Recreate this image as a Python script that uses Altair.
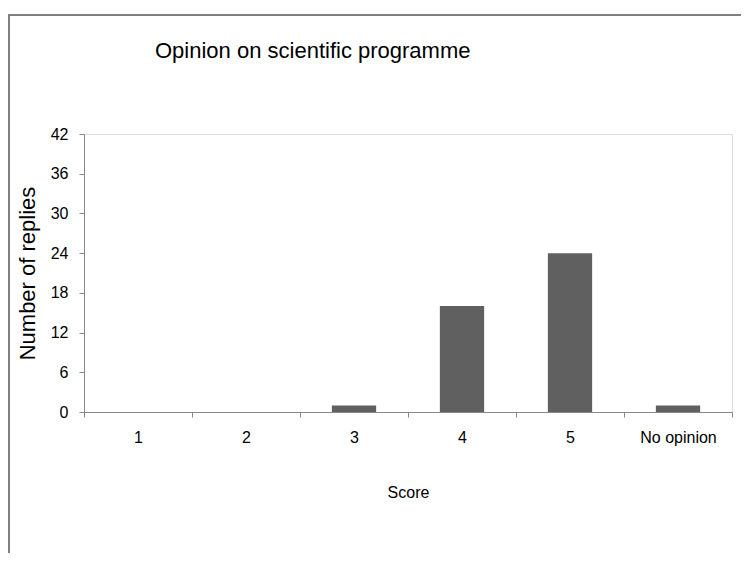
import altair as alt
import pandas as pd

categories = ["1", "2", "3", "4", "5", "No opinion"]
replies = [0, 0, 1, 16, 24, 1]
y_ticks = [0, 6, 12, 18, 24, 30, 36, 42]
chart_title = "Opinion on scientific programme"

df = pd.DataFrame({"Score": categories, "Replies": replies})

FONT = "Liberation Sans"

bars = alt.Chart(df).mark_bar(color="#606060", width={"band": 0.41}).encode(
    x=alt.X(
        "Score:N",
        sort=categories,
        scale=alt.Scale(paddingInner=0, paddingOuter=0),
        axis=alt.Axis(
            title="Score",
            labelAngle=0,
            tickBand="extent",
            labelFontSize=16,
            labelPadding=12,
            titleFontSize=16,
            titleFontWeight="normal",
            titleY=80,
            titleBaseline="middle",
        ),
    ),
    y=alt.Y(
        "Replies:Q",
        scale=alt.Scale(domain=[0, 42], nice=False),
        axis=alt.Axis(
            title="Number of replies",
            values=y_ticks,
            grid=False,
            labelFontSize=16,
            labelPadding=11,
            titleFontSize=22,
            titleFontWeight="normal",
            titleX=-57,
            titleY=139,
            titleAngle=-90,
            titleAlign="center",
            titleBaseline="middle",
        ),
    ),
)

border = alt.Chart(df).mark_rect(
    fill=None, stroke="#808080", strokeWidth=2
).encode(
    x=alt.value(-75), x2=alt.value(900), y=alt.value(-119), y2=alt.value(900)
)

title_df = pd.DataFrame({"t": [chart_title]})
title = alt.Chart(title_df).mark_text(
    align="left", baseline="middle", fontSize=22, font=FONT, color="#000000"
).encode(text="t:N", x=alt.value(71), y=alt.value(-83))

chart = (
    alt.layer(border, bars, title)
    .properties(
        width=648,
        height=278,
        autosize=alt.AutoSizeParams(type="none"),
        padding={"left": 76, "top": 126, "right": 9, "bottom": 141},
    )
    .configure_view(stroke=None)
    .configure_axis(
        domainColor="#a0a0a0",
        tickColor="#a0a0a0",
        tickSize=7,
        labelColor="#000000",
        titleColor="#000000",
        labelFont=FONT,
        titleFont=FONT,
    )
    .configure(background="#ffffff")
)

chart.save("out.html", embed_options={"renderer": "svg", "actions": False})
